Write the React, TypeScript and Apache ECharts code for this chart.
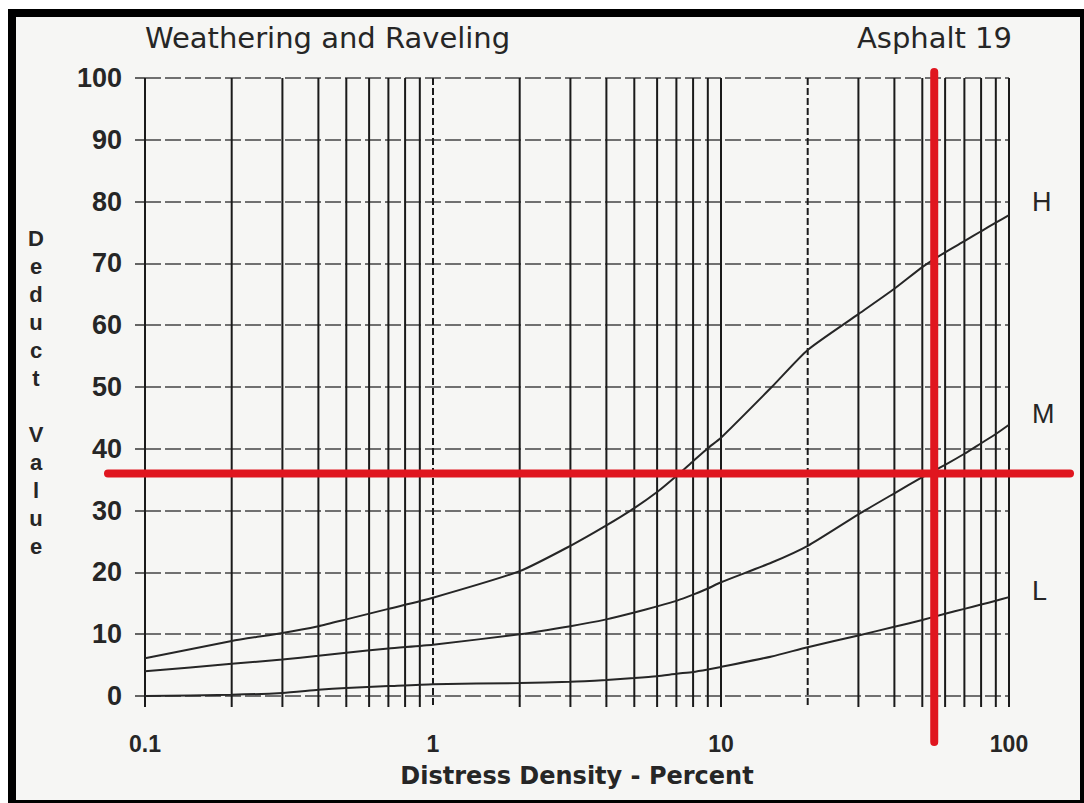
import React, { useEffect, useRef } from 'react';
import * as echarts from 'echarts';

// Distress density (%) sample positions along the curves
const densityPercent = [0.1, 0.2, 0.3, 0.4, 0.5, 0.7, 1, 2, 3, 4, 5, 6, 7, 8, 9, 10, 15, 20, 30, 40, 50, 60, 70, 80, 90, 100];
// Deduct values
const highDeduct = [6.1, 8.9, 10.2, 11.3, 12.4, 14.1, 15.9, 20.2, 24.3, 27.6, 30.4, 33, 35.6, 38, 40.1, 41.8, 50, 56, 61.8, 65.9, 69.4, 71.8, 73.6, 75.2, 76.6, 77.8];
const mediumDeduct = [4.0, 5.2, 5.9, 6.5, 7.0, 7.7, 8.3, 10, 11.3, 12.4, 13.5, 14.5, 15.4, 16.4, 17.4, 18.4, 21.6, 24.3, 29.4, 32.8, 35.4, 37.4, 39.2, 40.9, 42.4, 43.9];
const lowDeduct = [0, 0.2, 0.5, 1.0, 1.3, 1.6, 1.9, 2.1, 2.3, 2.6, 2.9, 3.2, 3.6, 3.9, 4.3, 4.7, 6.4, 7.9, 9.8, 11.2, 12.3, 13.3, 14.1, 14.8, 15.4, 16];
const severityNames = ['H', 'M', 'L'];
const gridLinesX = [0.1, 0.2, 0.3, 0.4, 0.5, 0.6, 0.7, 0.8, 0.9, 1, 2, 3, 4, 5, 6, 7, 8, 9, 10, 20, 30, 40, 50, 60, 70, 80, 90, 100];
const dashedGridX = [1, 20];
const readDensity = 55;
const readDeduct = 36;

const NUM_FONT = '"Liberation Sans", Arial, sans-serif';
const TEXT_FONT = '"DejaVu Sans", sans-serif';
const INK = '#262626';

export default function App() {
  const ref = useRef<HTMLDivElement>(null);

  useEffect(() => {
    if (!ref.current) return;
    const chart = echarts.init(ref.current, null, { renderer: 'svg' });
    const curves = [highDeduct, mediumDeduct, lowDeduct];
    const labelOffsets = [[15, -13], [15, -11], [15, -6]];

    const yLetters = {
      type: 'text',
      x: 36,
      y: 392,
      style: {
        text: 'D\ne\nd\nu\nc\nt\n \nV\na\nl\nu\ne',
        fontFamily: NUM_FONT,
        fontWeight: 'bold',
        fontSize: 22,
        lineHeight: 28,
        align: 'center',
        verticalAlign: 'middle',
        fill: INK,
      },
    };

    const option: any = {
      animation: false,
      backgroundColor: 'transparent',
      title: [
        {
          text: 'Weathering and Raveling',
          left: 145,
          top: 23,
          padding: 0,
          textStyle: { fontFamily: TEXT_FONT, fontWeight: 'normal', fontSize: 29, color: INK },
        },
        {
          text: 'Asphalt 19',
          right: 72,
          top: 23,
          padding: 0,
          textStyle: { fontFamily: TEXT_FONT, fontWeight: 'normal', fontSize: 29, color: INK },
        },
      ],
      grid: { left: 145, right: 75, top: 78, bottom: 107, containLabel: false },
      xAxis: {
        type: 'log',
        logBase: 10,
        min: 0.1,
        max: 100,
        name: 'Distress Density - Percent',
        nameLocation: 'middle',
        nameGap: 68,
        nameTextStyle: { fontFamily: TEXT_FONT, fontWeight: 'bold', fontSize: 24, color: INK },
        axisLine: { show: false },
        axisTick: { show: false },
        axisLabel: {
          formatter: (v: number) => String(+Number(v).toPrecision(3)),
          fontFamily: NUM_FONT,
          fontWeight: 'bold',
          fontSize: 23,
          color: INK,
          margin: 36,
        },
        splitLine: { show: false },
      },
      yAxis: {
        type: 'value',
        min: 0,
        max: 100,
        interval: 10,
        axisLine: { show: false },
        axisTick: { show: true, length: 10, lineStyle: { color: '#333', width: 1.5 } },
        axisLabel: {
          fontFamily: NUM_FONT,
          fontWeight: 'bold',
          fontSize: 27,
          color: INK,
          margin: 23,
        },
        splitLine: { show: true, lineStyle: { color: '#444', width: 1.5, type: [16, 4] } },
      },
      series: [
        {
          type: 'custom',
          name: 'verticalGrid',
          silent: true,
          clip: false,
          z: 1,
          data: gridLinesX.map((x) => [x, 0]),
          encode: { x: 0, y: 1 },
          renderItem: (params: any, api: any) => {
            const xv = api.value(0);
            const top = api.coord([xv, 100]);
            const bottom = api.coord([xv, 0]);
            return {
              type: 'line',
              shape: { x1: top[0], y1: top[1], x2: bottom[0], y2: bottom[1] + 11 },
              style: {
                stroke: '#1a1a1a',
                lineWidth: 2,
                lineDash: dashedGridX.includes(xv) ? [7, 3] : null,
              },
            };
          },
        },
        ...curves.map((vals, i) => ({
          type: 'line',
          name: severityNames[i],
          data: densityPercent.map((x, j) => [x, vals[j]]),
          smooth: 0.2,
          showSymbol: false,
          symbol: 'none',
          z: 3,
          lineStyle: { color: '#262626', width: 2 },
          endLabel: {
            show: true,
            formatter: () => severityNames[i],
            fontFamily: NUM_FONT,
            fontSize: 27,
            color: INK,
            offset: labelOffsets[i],
          },
        })),
      ],
      graphic: [yLetters],
    };

    chart.setOption(option);

    const [px, py] = chart.convertToPixel({ gridIndex: 0 }, [readDensity, readDeduct]) as number[];
    const [leftX, bottomY] = chart.convertToPixel({ gridIndex: 0 }, [0.1, 0]) as number[];
    const [rightX, topY] = chart.convertToPixel({ gridIndex: 0 }, [100, 100]) as number[];
    const red = '#e0161f';
    chart.setOption({
      graphic: [
        yLetters,
        {
          type: 'line',
          z: 100,
          shape: { x1: leftX - 37, y1: py, x2: rightX + 61, y2: py },
          style: { stroke: red, lineWidth: 8, lineCap: 'round' },
        },
        {
          type: 'line',
          z: 100,
          shape: { x1: px, y1: topY - 6, x2: px, y2: bottomY + 46 },
          style: { stroke: red, lineWidth: 8, lineCap: 'round' },
        },
      ],
    });

    return () => chart.dispose();
  }, []);

  return (
    <div style={{ position: 'fixed', left: 0, top: 0, width: 1084, height: 803, background: '#ffffff' }}>
      <div
        style={{
          position: 'absolute',
          left: 8,
          top: 9,
          width: 1076,
          height: 794,
          boxSizing: 'border-box',
          borderStyle: 'solid',
          borderColor: '#000',
          borderWidth: '8px 4px 3px 8px',
          background: '#f6f6f4',
        }}
      />
      <div ref={ref} style={{ position: 'absolute', left: 0, top: 0, width: 1084, height: 803 }} />
    </div>
  );
}
